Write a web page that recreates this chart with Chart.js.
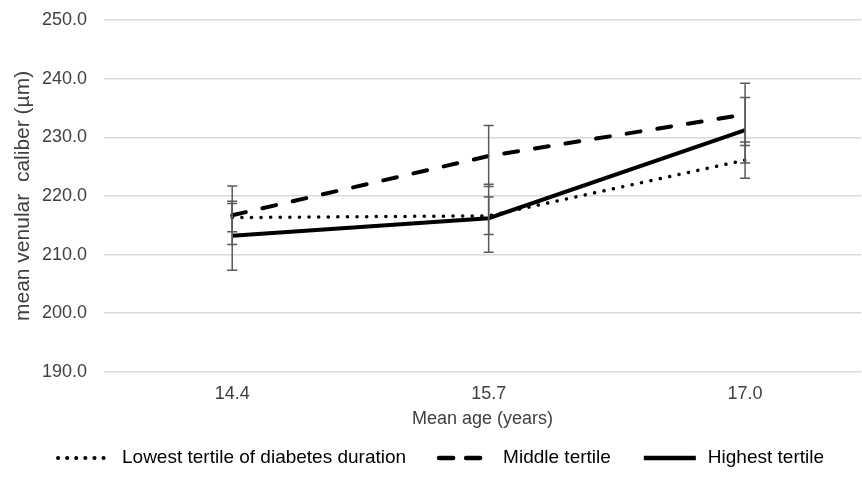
<!DOCTYPE html>
<html>
<head>
<meta charset="utf-8">
<script src="https://cdn.jsdelivr.net/npm/chart.js@4"></script>
<style>
  html, body { margin: 0; padding: 0; background: #fff; }
  #wrap { width: 862px; height: 487px; }
</style>
</head>
<body>
<div id="wrap"><canvas id="chart"></canvas></div>
<script>
  // categories (mean age, years)
  var ageLabels = ["14.4", "15.7", "17.0"];

  // mean venular caliber per tertile of diabetes duration
  var lowestValues = [216.3, 216.6, 226.1];
  var middleValues = [216.7, 226.8, 233.9];
  var highestValues = [213.2, 216.2, 231.2];

  // error bar half lengths
  var lowestErr = [2.4, 3.2, 3.1];
  var middleErr = [5.0, 5.2, 5.3];
  var highestErr = [5.9, 5.8, 5.6];

  var yTicks = [190, 200, 210, 220, 230, 240, 250];

  var FONT = "'Liberation Sans', Arial, sans-serif";

  function toPoints(values) {
    return values.map(function (v, i) { return { x: i, y: v }; });
  }

  // error bars, placed through the chart scales
  var errorBars = {
    id: "errorBars",
    afterDatasetsDraw: function (chart) {
      var ctx = chart.ctx;
      var xs = chart.scales.x, ys = chart.scales.y;
      ctx.save();
      ctx.strokeStyle = "#595959";
      ctx.lineWidth = 1.5;
      chart.data.datasets.forEach(function (ds) {
        ds.data.forEach(function (p, i) {
          var e = ds.errors[i];
          var px = xs.getPixelForValue(p.x);
          var top = ys.getPixelForValue(p.y + e);
          var bot = ys.getPixelForValue(p.y - e);
          ctx.beginPath();
          ctx.moveTo(px, top); ctx.lineTo(px, bot);
          ctx.moveTo(px - 5, top); ctx.lineTo(px + 5, top);
          ctx.moveTo(px - 5, bot); ctx.lineTo(px + 5, bot);
          ctx.stroke();
        });
      });
      ctx.restore();
    }
  };

  // bottom legend, line samples use each dataset's own dash style
  var lineLegend = {
    id: "lineLegend",
    afterDraw: function (chart) {
      var ctx = chart.ctx;
      var sampleW = 52, textGap = 12, itemGap = 33, y = 458;
      ctx.save();
      ctx.font = "19px " + FONT;
      ctx.textBaseline = "middle";
      var widths = chart.data.datasets.map(function (ds) {
        return sampleW + textGap + ctx.measureText(ds.label).width;
      });
      var total = widths.reduce(function (a, b) { return a + b; }, 0) + itemGap * (widths.length - 1);
      var x = (chart.width - total) / 2 + 10;
      chart.data.datasets.forEach(function (ds, i) {
        ctx.beginPath();
        ctx.strokeStyle = ds.borderColor;
        ctx.lineWidth = ds.borderWidth + 0.5;
        ctx.lineCap = ds.borderCapStyle || "butt";
        ctx.setLineDash(ds.legendDash || []);
        ctx.moveTo(x, y);
        ctx.lineTo(x + sampleW, y);
        ctx.stroke();
        ctx.setLineDash([]);
        ctx.fillStyle = "#000";
        ctx.fillText(ds.label, x + sampleW + textGap, y);
        x += widths[i] + itemGap;
      });
      ctx.restore();
    }
  };

  new Chart(document.getElementById("chart"), {
    type: "line",
    data: {
      datasets: [
        {
          label: "Lowest tertile of diabetes duration",
          data: toPoints(lowestValues),
          errors: lowestErr,
          borderColor: "#000",
          backgroundColor: "#000",
          borderWidth: 3.5,
          borderDash: [0.1, 9.5],
          legendDash: [0.1, 9],
          borderCapStyle: "round",
          pointRadius: 0
        },
        {
          label: "Middle tertile",
          data: toPoints(middleValues),
          errors: middleErr,
          borderColor: "#000",
          backgroundColor: "#000",
          borderWidth: 4,
          borderDash: [14, 17],
          legendDash: [14, 13],
          borderCapStyle: "round",
          pointRadius: 0
        },
        {
          label: "Highest tertile",
          data: toPoints(highestValues),
          errors: highestErr,
          borderColor: "#000",
          backgroundColor: "#000",
          borderWidth: 4,
          pointRadius: 0
        }
      ]
    },
    options: {
      responsive: true,
      maintainAspectRatio: false,
      animation: false,
      layout: { padding: { top: 20, right: 1, left: 11, bottom: 57 } },
      plugins: {
        tooltip: { enabled: false },
        legend: { display: false }
      },
      scales: {
        x: {
          type: "linear",
          min: -0.5,
          max: 2.452,
          grid: { display: false, drawTicks: false },
          border: { display: false },
          afterBuildTicks: function (scale) {
            scale.ticks = ageLabels.map(function (l, i) { return { value: i }; });
          },
          ticks: {
            color: "#404040",
            padding: 11,
            font: { family: FONT, size: 18 },
            callback: function (v) { return ageLabels[v]; }
          },
          title: {
            display: true,
            text: "Mean age (years)",
            color: "#404040",
            padding: { top: -7, bottom: 0 },
            font: { family: FONT, size: 18 }
          }
        },
        y: {
          min: 190,
          max: 250,
          afterBuildTicks: function (scale) {
            scale.ticks = yTicks.map(function (v) { return { value: v }; });
          },
          afterFit: function (scale) {
            scale.width = 93;
            scale.paddingTop = 0;
          },
          grid: { color: "#d9d9d9", lineWidth: 1.5, drawTicks: false },
          border: { display: false },
          ticks: {
            color: "#404040",
            padding: 17,
            font: { family: FONT, size: 18 },
            callback: function (v) { return v.toFixed(1); }
          },
          title: {
            display: true,
            text: "mean venular  caliber (µm)",
            color: "#404040",
            padding: { top: 0, bottom: 6 },
            font: { family: FONT, size: 21 }
          }
        }
      }
    },
    plugins: [errorBars, lineLegend]
  });
</script>
</body>
</html>
